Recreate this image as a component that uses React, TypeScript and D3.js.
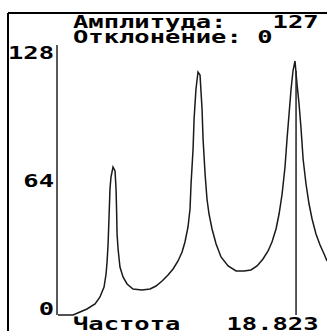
import React from "react";
import * as d3 from "d3";

// частота (условные единицы) и амплитуда
const freq = [
  0, 1.19, 1.74, 2.29, 2.93, 3.32, 3.64, 3.8, 3.88, 3.96, 4.03, 4.11, 4.19, 4.35,
  4.51, 4.59, 4.63, 4.67, 4.75, 4.9, 5.14, 5.46, 5.93, 6.64, 7.28, 7.75, 8.23,
  8.7, 9.1, 9.49, 9.81, 10.04, 10.28, 10.44, 10.52, 10.68, 10.76, 10.91, 11.07,
  11.23, 11.39, 11.47, 11.63, 11.78, 11.94, 12.18, 12.5, 12.89, 13.45, 14.08,
  14.71, 15.26, 15.74, 16.21, 16.61, 16.92, 17.24, 17.48, 17.72, 17.95, 18.11,
  18.27, 18.43, 18.58, 18.74, 18.9, 19.06, 19.22, 19.38, 19.61, 19.85, 20.09,
  20.4, 20.72, 21.04, 21.27,
];
const amp = [
  0, 0, 1.5, 3, 5.5, 9, 14, 20.5, 26.5, 35.5, 48, 63, 69, 74,
  72, 63, 53, 40.5, 33, 24, 19, 15.5, 13, 12.5, 13, 14.5, 17,
  20, 23, 27, 31.5, 36.5, 44, 53, 65.5, 83, 98, 113, 121.5,
  120, 103, 88, 70.5, 58, 50.5, 43, 35.5, 29, 24.5, 22,
  22, 22.5, 24.5, 28, 32, 36.5, 43, 50.5, 60.5, 74, 88,
  100.5, 113, 122, 127, 115.5, 105.5, 93, 78, 65.5, 55.5, 48,
  40.5, 35, 30.5, 27,
];

const yTicks = [0, 64, 128];
const amplitude = 127;
const deviation = 0;
const cursorFreq = 18.823;

const W = 327;
const H = 331;
const FONT = "'DejaVu Sans Mono', monospace";

// моноширинный жирный шрифт, растянутый по горизонтали
function Txt(props: { x: number; y: number; children: React.ReactNode; anchor?: string }) {
  return (
    <text
      transform={`translate(${props.x},${props.y}) scale(1.5,1)`}
      fontFamily={FONT}
      fontWeight="bold"
      fontSize={17}
      textAnchor={props.anchor || "start"}
      fill="#000"
    >
      {props.children}
    </text>
  );
}

export default function App() {
  const x = d3.scaleLinear().domain([0, 21.27]).range([58, 327]);
  const y = d3.scaleLinear().domain([0, 128]).range([315, 59]);

  const pts = freq.map((f, i) => [f, amp[i]] as [number, number]);
  const line = d3
    .line<[number, number]>()
    .x((d) => x(d[0]))
    .y((d) => y(d[1]));

  const cx = x(cursorFreq);

  return (
    <svg
      width={W}
      height={H}
      style={{ position: "absolute", left: 0, top: 0, background: "#fff" }}
    >
      {/* рамка */}
      <line x1={8} y1={13} x2={W} y2={13} stroke="#000" strokeWidth={2} />
      <line x1={8} y1={13} x2={8} y2={H} stroke="#000" strokeWidth={2} />

      {/* заголовки */}
      <Txt x={73} y={28}>Амплитуда:</Txt>
      <Txt x={73 + 13 * 15.35} y={28}>{amplitude}</Txt>
      <Txt x={73} y={43}>Отклонение:</Txt>
      <Txt x={73 + 12 * 15.35} y={43}>{deviation}</Txt>

      {/* ось Y */}
      <line x1={57} y1={y(135)} x2={57} y2={y(0)} stroke="#222" strokeWidth={1.5} />
      {yTicks.map((t) => (
        <Txt key={t} x={54} y={y(t)} anchor="end">
          {t}
        </Txt>
      ))}

      {/* кривая */}
      <path d={line(pts) || ""} fill="none" stroke="#1a1a1a" strokeWidth={1.5} />

      {/* курсор */}
      <line x1={cx} y1={y(122)} x2={cx} y2={y(0)} stroke="#222" strokeWidth={1.5} />

      {/* подпись снизу */}
      <Txt x={73} y={330}>Частота</Txt>
      <Txt x={73 + 10 * 15.35} y={330}>{cursorFreq.toFixed(3)}</Txt>
    </svg>
  );
}
